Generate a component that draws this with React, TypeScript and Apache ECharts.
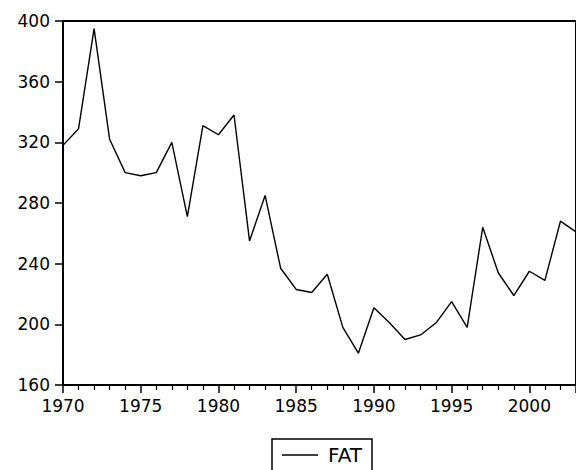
import React, { useEffect, useRef } from "react";
import * as echarts from "echarts";

const years: number[] = [
  1970, 1971, 1972, 1973, 1974, 1975, 1976, 1977, 1978, 1979,
  1980, 1981, 1982, 1983, 1984, 1985, 1986, 1987, 1988, 1989,
  1990, 1991, 1992, 1993, 1994, 1995, 1996, 1997, 1998, 1999,
  2000, 2001, 2002, 2003,
];
const fat: number[] = [
  318, 329, 395, 322, 300, 298, 300, 320, 271, 331,
  325, 338, 255, 285, 237, 223, 221, 233, 198, 181,
  211, 201, 190, 193, 201, 215, 198, 264, 234, 219,
  235, 229, 268, 261,
];
const seriesName = "FAT";
const yTicks: number[] = [160, 200, 240, 280, 320, 360, 400];

const FONT = "DejaVu Sans";

export default function App() {
  const ref = useRef<HTMLDivElement>(null);
  useEffect(() => {
    if (!ref.current) return;
    const chart = echarts.init(ref.current, null, { renderer: "svg" });
    chart.setOption({
      animation: false,
      backgroundColor: "#fff",
      grid: {
        left: 63,
        top: 21,
        right: -7,
        bottom: 85,
        show: true,
        borderColor: "#000",
        borderWidth: 2,
        containLabel: false,
      },
      legend: {
        show: true,
        left: 272,
        top: 439,
        orient: "horizontal",
        padding: [6, 10, 14, 10],
        borderColor: "#000",
        borderWidth: 1.5,
        itemWidth: 36,
        itemHeight: 1.5,
        icon: "rect",
        itemStyle: { color: "#000" },
        textStyle: { fontFamily: FONT, fontSize: 20, color: "#000", padding: [0, 0, 0, 5] },
        data: [seriesName],
      },
      xAxis: {
        type: "value",
        min: 1970,
        max: 2003,
        interval: 5,
        axisLine: { show: true, lineStyle: { color: "#000", width: 1.5 } },
        axisTick: { show: true, length: 8, lineStyle: { color: "#000", width: 1.5 } },
        minorTick: { show: true, splitNumber: 5, length: 5, lineStyle: { color: "#000", width: 1.2 } },
        splitLine: { show: false },
        axisLabel: {
          margin: 12,
          fontFamily: FONT,
          fontSize: 17,
          color: "#000",
          showMaxLabel: false,
          formatter: (v: number) => String(v),
        },
      },
      yAxis: {
        type: "value",
        min: yTicks[0],
        max: yTicks[yTicks.length - 1],
        interval: 40,
        axisLine: { show: true, lineStyle: { color: "#000", width: 1.5 } },
        axisTick: { show: true, length: 8, lineStyle: { color: "#000", width: 1.5 } },
        splitLine: { show: false },
        axisLabel: {
          margin: 13,
          fontFamily: FONT,
          fontSize: 17,
          color: "#000",
        },
      },
      series: [
        {
          name: seriesName,
          type: "line",
          data: years.map((y, i) => [y, fat[i]]),
          symbol: "none",
          lineStyle: { color: "#000", width: 1.4 },
          itemStyle: { color: "#000" },
          clip: true,
        },
      ],
    });
    return () => chart.dispose();
  }, []);
  return (
    <div
      ref={ref}
      style={{ position: "fixed", left: 0, top: 0, width: 576, height: 470, background: "#fff" }}
    />
  );
}
